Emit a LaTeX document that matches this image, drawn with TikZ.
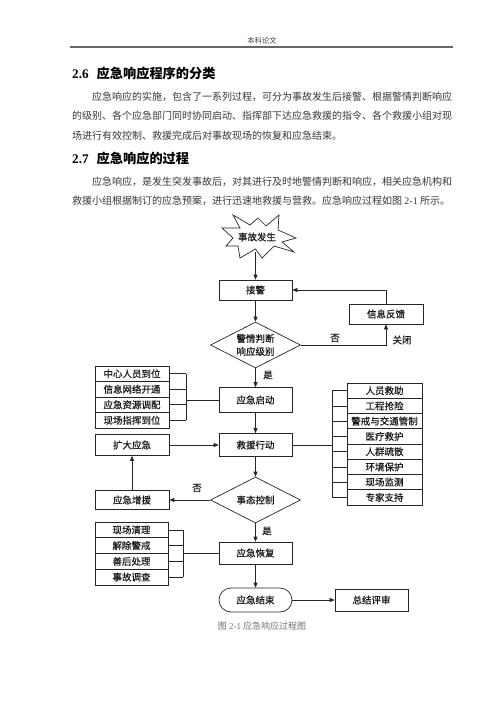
\documentclass[tikz,border=0pt]{standalone}
\usepackage{fontspec}
\setmainfont{Noto Sans CJK SC}
\newfontfamily\fcfont[FakeBold=0.5]{Noto Sans CJK SC}
\newfontfamily\lat{Liberation Serif}
\usetikzlibrary{shapes.geometric,shapes.misc,arrows.meta}
\begin{document}
\begin{tikzpicture}[x=1pt,y=-1pt,
  fc/.style={draw=black!85, line width=0.7pt, inner sep=0pt, font=\fcfont\fontsize{9.5}{11}\selectfont, text=black!90},
  box/.style={fc, minimum width=73pt, minimum height=21pt},
  cellL/.style={fc, minimum width=74pt, minimum height=15.5pt},
  cellR/.style={fc, minimum width=75pt, minimum height=15.25pt},
  dia/.style={fc, diamond, aspect=2, minimum width=90pt, minimum height=46pt, align=center, font=\fcfont\fontsize{9.5}{13}\selectfont},
  arr/.style={draw=black!85, line width=0.7pt, -{Triangle[length=5pt,width=4pt]}},
  ln/.style={draw=black!85, line width=0.7pt},
  lbl/.style={inner sep=0pt, font=\fcfont\fontsize{9.5}{11}\selectfont, text=black!90},
  body/.style={anchor=west, inner sep=0pt, font=\fontsize{10}{12}\selectfont, text=black!78},
  head/.style={anchor=west, inner sep=0pt, font=\fontsize{13.2}{15}\selectfont\bfseries, text=black},
]
\useasboundingbox (0,0) rectangle (500,707);
\fill[white] (0,0) rectangle (500,707);

% page header
\node[inner sep=0pt, font=\fontsize{7.3}{8}\selectfont, text=black!75] (hdr) at (262,40.5) {本科论文};
\coordinate (rulel) at (70,47);
\coordinate (ruler) at (453,47);
\draw[line width=1.2pt, black!60] (rulel) -- (ruler);

% section 2.6
\node[head] (h26) at (72,73) {{\lat 2.6}\hspace{8pt}应急响应程序的分类};
\node[body] (p1a) at (92,96.5) {应急响应的实施，包含了一系列过程，可分为事故发生后接警、根据警情判断响应};
\node[body] (p1b) at (72,116) {的级别、各个应急部门同时协同启动、指挥部下达应急救援的指令、各个救援小组对现};
\node[body] (p1c) at (72,135.5) {场进行有效控制、救援完成后对事故现场的恢复和应急结束。};

% section 2.7
\node[head] (h27) at (72,158) {{\lat 2.7}\hspace{8pt}应急响应的过程};
\node[body] (p2a) at (92,182) {应急响应，是发生突发事故后，对其进行及时地警情判断和响应，相关应急机构和};
\node[body] (p2b) at (72,201) {救援小组根据制订的应急预案，进行迅速地救援与营救。应急响应过程如图 {\lat 2-1} 所示。};

% star
\draw[ln, fill=white] (222,228) -- (240,228) -- (233,215) -- (250,225) -- (258,218) -- (266,226)
  -- (279,215) -- (278,230) -- (296,238) -- (282,242) -- (294,252) -- (274,246)
  -- (262,258) -- (255.5,249) -- (240,258) -- (238,246) -- (226,246) -- (233,238) -- cycle;
\node[lbl] (star) at (257,237) {事故发生};
\coordinate (starb) at (255.5,252);

% main column
\node[box, minimum height=20pt] (jj) at (255.5,290) {接警};
\node[dia] (d1) at (255.5,345) {警情判断\\响应级别};
\node[box, minimum height=25pt] (qd) at (255.5,400) {应急启动};
\node[box, minimum height=23pt] (jy) at (255.5,445) {救援行动};
\node[dia] (d2) at (255.5,500) {事态控制};
\node[box, minimum height=22pt] (hf) at (255.5,553) {应急恢复};
\node[fc, rounded rectangle, minimum width=73pt, minimum height=24pt] (js) at (255.5,600) {应急结束};
\node[box, minimum height=22pt] (zj) at (371.5,600) {总结评审};

% feedback
\node[box, minimum width=74pt, minimum height=20pt] (fk) at (386,314) {信息反馈};

% left side
\node[box, minimum width=74pt, minimum height=21pt] (kd) at (132,445) {扩大应急};
\node[box, minimum width=74pt, minimum height=19pt] (zy) at (132,500) {应急增援};

% left group 1
\node[cellL] (a1) at (132,373.75) {中心人员到位};
\node[cellL] (a2) at (132,389.25) {信息网络开通};
\node[cellL] (a3) at (132,404.75) {应急资源调配};
\node[cellL] (a4) at (132,420.25) {现场指挥到位};
\coordinate (ba) at (186,400);

% left group 2
\node[cellL, minimum width=73pt, minimum height=15.75pt] (b1) at (131.5,529.9) {现场清理};
\node[cellL, minimum width=73pt, minimum height=15.75pt] (b2) at (131.5,545.6) {解除警戒};
\node[cellL, minimum width=73pt, minimum height=15.75pt] (b3) at (131.5,561.4) {善后处理};
\node[cellL, minimum width=73pt, minimum height=15.75pt] (b4) at (131.5,577.1) {事故调查};
\coordinate (bb) at (183,553);

% right group
\node[cellR] (r1) at (384.5,390.6) {人员救助};
\node[cellR] (r2) at (384.5,405.9) {工程抢险};
\node[cellR] (r3) at (384.5,421.1) {警戒与交通管制};
\node[cellR] (r4) at (384.5,436.4) {医疗救护};
\node[cellR] (r5) at (384.5,451.6) {人群疏散};
\node[cellR] (r6) at (384.5,466.9) {环境保护};
\node[cellR] (r7) at (384.5,482.1) {现场监测};
\node[cellR] (r8) at (384.5,497.4) {专家支持};
\coordinate (br) at (332,445);

% connectors
\draw[arr] (starb) -- (jj.north);
\draw[arr] (jj.south) -- (d1.north);
\draw[arr] (d1.south) -- (qd.north);
\draw[arr] (qd.south) -- (jy.north);
\draw[arr] (jy.south) -- (d2.north);
\draw[arr] (d2.south) -- (hf.north);
\draw[arr] (hf.south) -- (js.north);
\draw[arr] (js.east) -- (zj.west);
\draw[arr] (d1.east) -| (fk.south);
\draw[arr] (fk.north) |- (jj.east);
\draw[arr] (d2.west) -- (zy.east);
\draw[arr] (zy.north) -- (kd.south);
\draw[arr] (kd.east) -- (jy.west);

% brackets
\foreach \n in {a1,a2,a3,a4} \draw[ln] (\n.east) -- (\n.east -| ba);
\draw[ln] (a1.east -| ba) -- (a4.east -| ba);
\draw[ln] (ba) -- (qd.west);

\foreach \n in {b1,b2,b3,b4} \draw[ln] (\n.east) -- (\n.east -| bb);
\draw[ln] (b1.east -| bb) -- (b4.east -| bb);
\draw[ln] (bb) -- (hf.west);

\foreach \n in {r1,r2,r3,r4,r5,r6,r7,r8} \draw[ln] (\n.west) -- (\n.west -| br);
\draw[ln] (r1.west -| br) -- (r8.west -| br);
\draw[ln] (jy.east) -- (br);

% labels
\node[lbl] (yes1) at (268,375) {是};
\node[lbl] (yes2) at (267,531) {是};
\node[lbl] (no1) at (335,338) {否};
\node[lbl] (close) at (402,340) {关闭};
\node[lbl] (no2) at (197,488) {否};

% caption
\node[inner sep=0pt, font=\fontsize{9}{10}\selectfont, text=black!55] (cap) at (262,626) {图 {\lat 2-1} 应急响应过程图};
\end{tikzpicture}
\end{document}
